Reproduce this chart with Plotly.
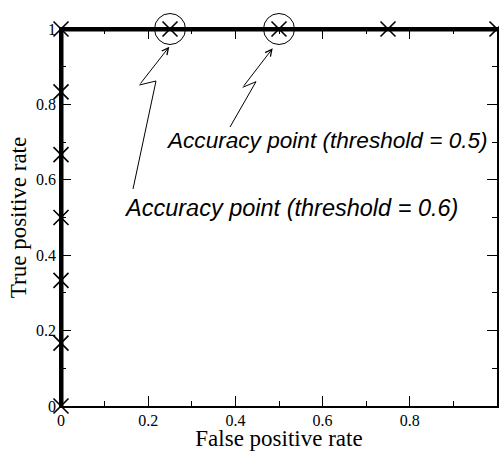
import plotly.graph_objects as go

# ROC curve data
fpr = [0, 0, 0, 0, 0, 0, 0, 0.25, 0.5, 0.75, 1]
tpr = [0, 1/6, 2/6, 3/6, 4/6, 5/6, 1, 1, 1, 1, 1]

# highlighted accuracy points
acc_fpr = [0.25, 0.5]
acc_tpr = [1, 1]
acc_labels = ["Accuracy point (threshold = 0.6)", "Accuracy point (threshold = 0.5)"]

tick_vals = [0, 0.2, 0.4, 0.6, 0.8, 1]
tick_text = ["0", "0.2", "0.4", "0.6", "0.8", "1"]

W, H = 499, 451
ML, MR, MT, MB = 61, 2, 29, 45
PW, PH = W - ML - MR, H - MT - MB


def px2d(px, py):
    return (px - ML) / PW, 1 - (py - MT) / PH


fig = go.Figure()
fig.add_trace(go.Scatter(
    x=fpr, y=tpr, mode="lines+markers",
    line=dict(color="black", width=5),
    marker=dict(symbol="x-thin", size=15, line=dict(color="black", width=1.6)),
    cliponaxis=False, showlegend=False,
))

# circles around accuracy points (axis range [0,1] spans the full domain, so paper == data)
for xv, yv in zip(acc_fpr, acc_tpr):
    fig.add_shape(type="circle", xref="paper", yref="paper", xsizemode="pixel", ysizemode="pixel",
                  xanchor=xv, yanchor=yv, x0=-15.5, x1=15.5, y0=-15.5, y1=15.5,
                  line=dict(color="black", width=1))

# lightning-style arrows (pixel geometry of callouts)
arrows = [
    [(133, 189), (156, 81), (139.3, 85), (169.3, 46.7)],
    [(230, 127), (256, 81.7), (242.7, 87.3), (272.7, 48.3)],
]
for pts in arrows:
    d = [px2d(*p) for p in pts[:3]]
    path = "M " + " L ".join(f"{a},{b}" for a, b in d)
    fig.add_shape(type="path", xref="x", yref="y", path=path,
                  line=dict(color="black", width=1))
    tx, ty = px2d(*pts[3])
    fig.add_annotation(x=tx, y=ty, xref="x", yref="y", text="", showarrow=True,
                       ax=pts[2][0] - pts[3][0], ay=pts[2][1] - pts[3][1],
                       arrowhead=5, arrowsize=1.3, arrowwidth=1, arrowcolor="black",
                       standoff=0, startstandoff=0)

# callout texts
text_pos = [(122, 208, 23.5), (164, 140, 22.6)]
for lbl, (px, py, fs) in zip(acc_labels, text_pos):
    tx, ty = px2d(px, py)
    fig.add_annotation(x=tx, y=ty, xref="x", yref="y", text=f"<i>{lbl}</i>",
                       showarrow=False, xanchor="left", yanchor="middle",
                       font=dict(family="Liberation Sans, Arial", size=fs, color="black"))

axis_common = dict(
    range=[0, 1], tickvals=tick_vals, ticktext=tick_text,
    ticks="inside", ticklen=10, tickwidth=1, tickcolor="black",
    showline=True, linecolor="black", linewidth=1.5, mirror="ticks",
    showgrid=False, zeroline=False, automargin=False,
    tickfont=dict(family="Liberation Serif, Times New Roman", size=16, color="black"),
    minor=dict(ticks="inside", ticklen=5, tickwidth=1, tickcolor="black",
               tickvals=[0.1, 0.3, 0.5, 0.7, 0.9], showgrid=False),
)

fig.update_xaxes(**axis_common, ticklabelstandoff=-1,
                 title=dict(text="False positive rate", standoff=0,
                            font=dict(family="Liberation Serif, Times New Roman", size=23, color="black")))
fig.update_yaxes(**axis_common,
                 title=dict(text="True positive rate", standoff=3,
                            font=dict(family="Liberation Serif, Times New Roman", size=23, color="black")))

fig.update_layout(
    width=W, height=H,
    margin=dict(l=ML, r=MR, t=MT, b=MB),
    plot_bgcolor="white", paper_bgcolor="white",
)

fig.write_html("out.html", config={"displayModeBar": False},
               post_script="document.body.style.margin='0';document.body.style.overflow='hidden';")
